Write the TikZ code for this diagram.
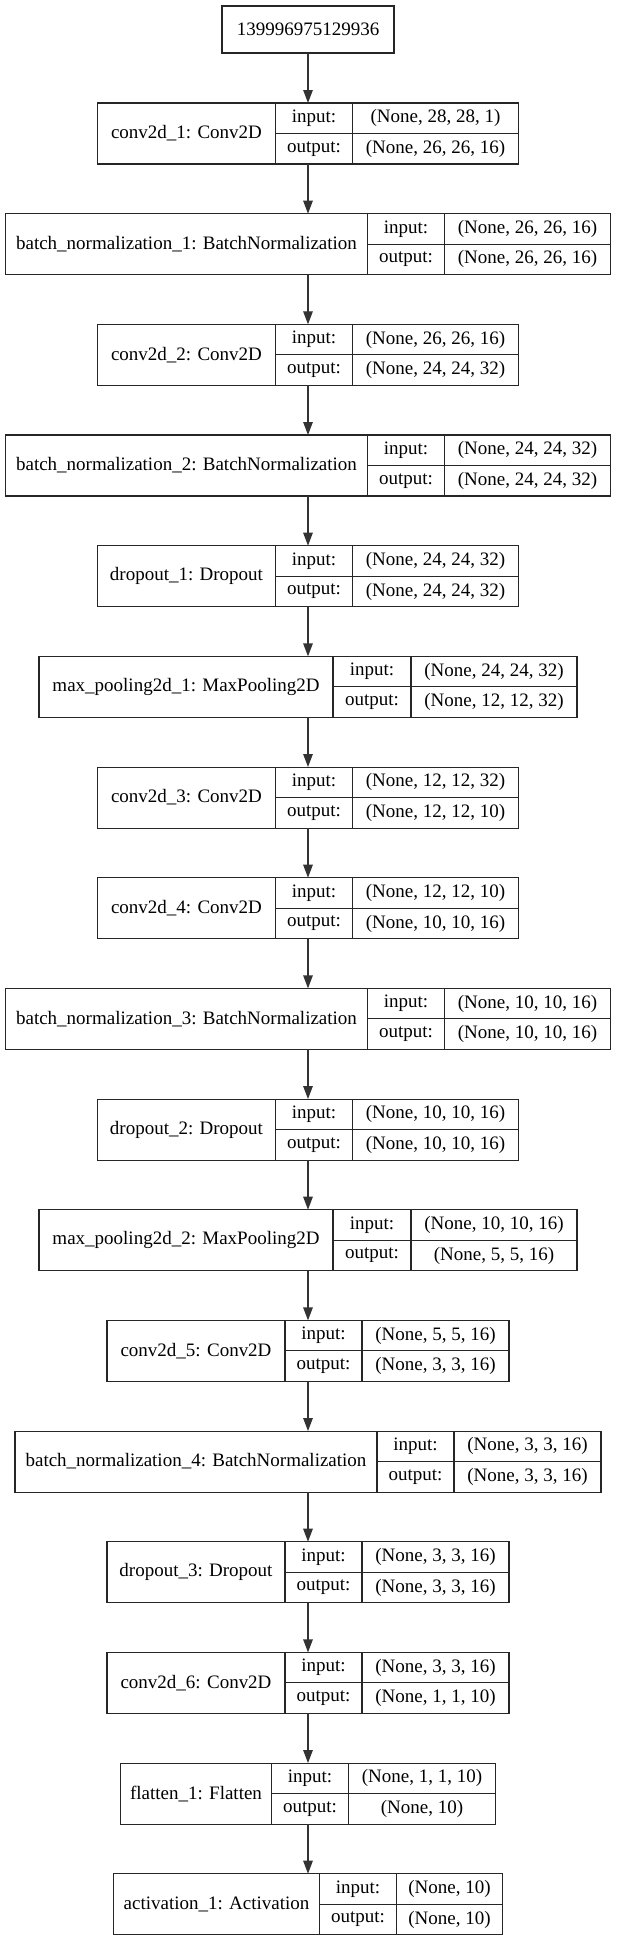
\documentclass[tikz,border=0pt]{standalone}
\usepackage{fontspec}
\setmainfont{Liberation Serif}
\usetikzlibrary{arrows.meta}
\tikzset{
  rec/.style={draw=black!85, line width=1.05pt, minimum height=61pt, inner sep=0pt, outer sep=0pt},
  cell/.style={draw=black!85, line width=1.05pt, inner sep=0pt, outer sep=0pt, font=\fontsize{19}{22}\selectfont},
  arr/.style={draw=black!80, line width=1.3pt, -{Triangle[length=13pt,width=9.5pt]}}
}
\newcommand{\recnode}[8]{%
  \pgfmathsetmacro{\ry}{-(103+(#2-1)*110.67)}%
  \pgfmathsetmacro{\rw}{#3+#4+#5}%
  \node[rec, minimum width=\rw pt, anchor=north] (#1) at (308,\ry) {};
  \node[cell, minimum width=#3pt, minimum height=61pt, anchor=north west] (#1l) at (#1.north west) {#6};
  \node[cell, minimum width=#4pt, minimum height=30.5pt, anchor=north west] (#1a) at (#1l.north east) {input:};
  \node[cell, minimum width=#4pt, minimum height=30.5pt, anchor=north west] (#1b) at (#1a.south west) {output:};
  \node[cell, minimum width=#5pt, minimum height=30.5pt, anchor=north west] (#1c) at (#1a.north east) {#7};
  \node[cell, minimum width=#5pt, minimum height=30.5pt, anchor=north west] (#1d) at (#1c.south west) {#8};
}
\begin{document}
\begin{tikzpicture}[x=1pt,y=1pt]
\useasboundingbox (0,0) rectangle (616,-1941);
\node[cell, minimum width=172pt, minimum height=47pt, anchor=north] (top) at (308,-6) {139996975129936};
\recnode{ca}{1}{178}{77}{166}{conv2d\_1: Conv2D}{(None, 28, 28, 1)}{(None, 26, 26, 16)}
\recnode{ba}{2}{362}{77}{166}{batch\_normalization\_1: BatchNormalization}{(None, 26, 26, 16)}{(None, 26, 26, 16)}
\recnode{cb}{3}{178}{77}{166}{conv2d\_2: Conv2D}{(None, 26, 26, 16)}{(None, 24, 24, 32)}
\recnode{bb}{4}{362}{77}{166}{batch\_normalization\_2: BatchNormalization}{(None, 24, 24, 32)}{(None, 24, 24, 32)}
\recnode{da}{5}{178}{77}{166}{dropout\_1: Dropout}{(None, 24, 24, 32)}{(None, 24, 24, 32)}
\recnode{ma}{6}{294}{78}{166}{max\_pooling2d\_1: MaxPooling2D}{(None, 24, 24, 32)}{(None, 12, 12, 32)}
\recnode{cc}{7}{178}{77}{166}{conv2d\_3: Conv2D}{(None, 12, 12, 32)}{(None, 12, 12, 10)}
\recnode{cd}{8}{178}{77}{166}{conv2d\_4: Conv2D}{(None, 12, 12, 10)}{(None, 10, 10, 16)}
\recnode{bc}{9}{362}{77}{166}{batch\_normalization\_3: BatchNormalization}{(None, 10, 10, 16)}{(None, 10, 10, 16)}
\recnode{db}{10}{178}{77}{166}{dropout\_2: Dropout}{(None, 10, 10, 16)}{(None, 10, 10, 16)}
\recnode{mb}{11}{294}{78}{166}{max\_pooling2d\_2: MaxPooling2D}{(None, 10, 10, 16)}{(None, 5, 5, 16)}
\recnode{ce}{12}{178}{77}{147}{conv2d\_5: Conv2D}{(None, 5, 5, 16)}{(None, 3, 3, 16)}
\recnode{bd}{13}{362}{77}{147}{batch\_normalization\_4: BatchNormalization}{(None, 3, 3, 16)}{(None, 3, 3, 16)}
\recnode{dc}{14}{178}{77}{147}{dropout\_3: Dropout}{(None, 3, 3, 16)}{(None, 3, 3, 16)}
\recnode{cf}{15}{178}{77}{147}{conv2d\_6: Conv2D}{(None, 3, 3, 16)}{(None, 1, 1, 10)}
\recnode{fl}{16}{151}{77}{147}{flatten\_1: Flatten}{(None, 1, 1, 10)}{(None, 10)}
\recnode{ac}{17}{206}{77}{106}{activation\_1: Activation}{(None, 10)}{(None, 10)}
\draw[arr] (top.south) -- (ca.north);
\draw[arr] (ca.south) -- (ba.north);
\draw[arr] (ba.south) -- (cb.north);
\draw[arr] (cb.south) -- (bb.north);
\draw[arr] (bb.south) -- (da.north);
\draw[arr] (da.south) -- (ma.north);
\draw[arr] (ma.south) -- (cc.north);
\draw[arr] (cc.south) -- (cd.north);
\draw[arr] (cd.south) -- (bc.north);
\draw[arr] (bc.south) -- (db.north);
\draw[arr] (db.south) -- (mb.north);
\draw[arr] (mb.south) -- (ce.north);
\draw[arr] (ce.south) -- (bd.north);
\draw[arr] (bd.south) -- (dc.north);
\draw[arr] (dc.south) -- (cf.north);
\draw[arr] (cf.south) -- (fl.north);
\draw[arr] (fl.south) -- (ac.north);
\end{tikzpicture}
\end{document}
